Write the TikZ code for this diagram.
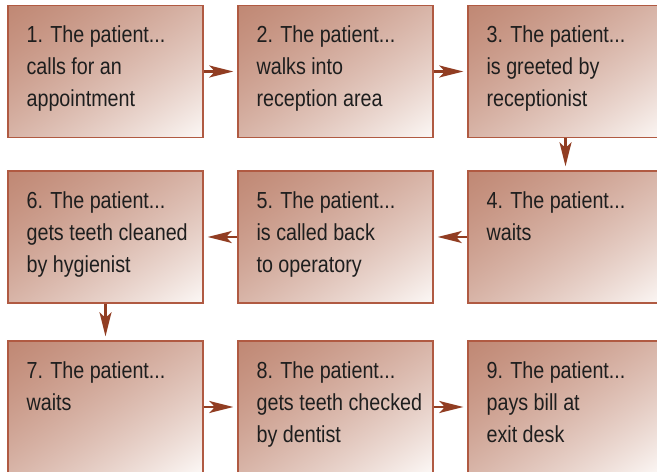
\documentclass[tikz,border=0pt]{standalone}
\usepackage{fontspec}
\setmainfont{Liberation Sans}[FakeStretch=0.85]
\usetikzlibrary{arrows.meta, positioning}
\definecolor{boxedge}{RGB}{176,90,66}
\definecolor{arrowred}{RGB}{145,61,34}
\definecolor{textgray}{RGB}{30,30,30}

% dark in the top left corner, light in the bottom right one
\pgfdeclarefunctionalshading{stageshade}{\pgfpointorigin}{\pgfpoint{100bp}{100bp}}{}{
    75 exch sub 50 div exch 25 sub 50 div add 2 div
    dup 0.4 mul 0.6 add mul
    dup 0.235 mul 0.753 add exch
    dup 0.44 mul 0.533 add exch
    0.51 mul 0.455 add
}

\begin{document}
\begin{tikzpicture}[
    stagebox/.style={draw=boxedge, line width=1pt, shading=stageshade, minimum width=4.875cm, minimum height=3.3cm, inner sep=0pt},
    stagetext/.style={anchor=north west, inner sep=0pt, align=left, text=textgray, font=\fontsize{16.5}{22.8}\selectfont},
    flow/.style={draw=arrowred, line width=1.6pt, -{Stealth[length=0.6cm, width=0.3cm, inset=0.14cm]}, shorten >=0.1cm}
]
    \useasboundingbox (0, 0) rectangle (16.425, 11.775);

    % Row 1: arriving
    \node[stagebox] (b1) at (2.6375, 9.9875) {};
    \node[stagebox] (b2) at (8.3875, 9.9875) {};
    \node[stagebox] (b3) at (14.1375, 9.9875) {};
    \node[stagetext] (t1) at ([shift={(0.475, -0.52)}]b1.north west) {1. The patient...\\calls for an\\appointment};
    \node[stagetext] (t2) at ([shift={(0.475, -0.52)}]b2.north west) {2. The patient...\\walks into\\reception area};
    \node[stagetext] (t3) at ([shift={(0.475, -0.52)}]b3.north west) {3. The patient...\\is greeted by\\receptionist};

    % Row 2: waiting and cleaning
    \node[stagebox] (b4) at (14.1375, 5.85) {};
    \node[stagebox] (b5) at (8.3875, 5.85) {};
    \node[stagebox] (b6) at (2.6375, 5.85) {};
    \node[stagetext] (t4) at ([shift={(0.475, -0.52)}]b4.north west) {4. The patient...\\waits};
    \node[stagetext] (t5) at ([shift={(0.475, -0.52)}]b5.north west) {5. The patient...\\is called back\\to operatory};
    \node[stagetext] (t6) at ([shift={(0.475, -0.52)}]b6.north west) {6. The patient...\\gets teeth cleaned\\by hygienist};

    % Row 3: check and leaving
    \node[stagebox] (b7) at (2.6375, 1.6) {};
    \node[stagebox] (b8) at (8.3875, 1.6) {};
    \node[stagebox] (b9) at (14.1375, 1.6) {};
    \node[stagetext] (t7) at ([shift={(0.475, -0.52)}]b7.north west) {7. The patient...\\waits};
    \node[stagetext] (t8) at ([shift={(0.475, -0.52)}]b8.north west) {8. The patient...\\gets teeth checked\\by dentist};
    \node[stagetext] (t9) at ([shift={(0.475, -0.52)}]b9.north west) {9. The patient...\\pays bill at\\exit desk};

    % Flow between the steps
    \draw[flow] (b1) -- (b2);
    \draw[flow] (b2) -- (b3);
    \draw[flow] (b3) -- (b4);
    \draw[flow] (b4) -- (b5);
    \draw[flow] (b5) -- (b6);
    \draw[flow] (b6) -- (b7);
    \draw[flow] (b7) -- (b8);
    \draw[flow] (b8) -- (b9);
\end{tikzpicture}
\end{document}
